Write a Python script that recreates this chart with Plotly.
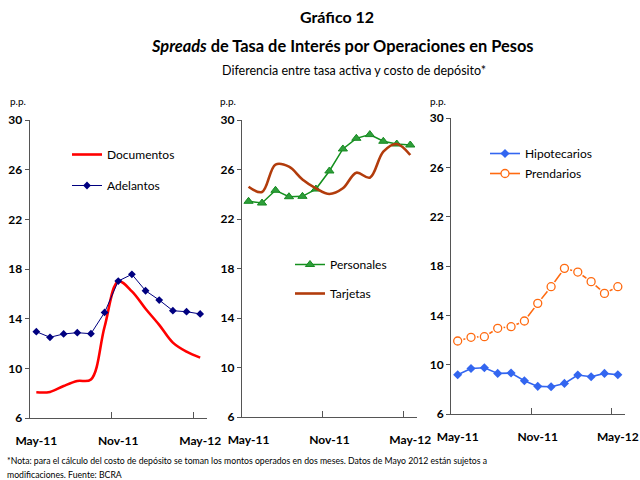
import plotly.graph_objects as go

months = ["May-11", "Jun-11", "Jul-11", "Ago-11", "Sep-11", "Oct-11", "Nov-11",
          "Dic-11", "Ene-12", "Feb-12", "Mar-12", "Abr-12", "May-12"]
tick_labels = ["May-11", "Nov-11", "May-12"]
y_ticks = [6, 10, 14, 18, 22, 26, 30]

documentos = [8.07, 8.1, 8.58, 8.98, 9.1, 13.35, 17.0, 16.2, 14.8, 13.5, 12.07, 11.34, 10.86]
adelantos = [12.95, 12.5, 12.77, 12.87, 12.79, 14.5, 17.03, 17.57, 16.25, 15.5, 14.64, 14.56, 14.38]
personales = [23.43, 23.29, 24.32, 23.8, 23.83, 24.42, 25.88, 27.66, 28.52, 28.82, 28.28, 28.06, 27.98]
tarjetas = [24.61, 24.18, 26.4, 26.23, 25.2, 24.48, 24.02, 24.48, 25.74, 25.34, 27.44, 28.06, 27.17]
hipotecarios = [9.18, 9.69, 9.75, 9.29, 9.32, 8.7, 8.24, 8.21, 8.48, 9.16, 9.02, 9.29, 9.18]
prendarios = [11.92, 12.22, 12.27, 12.95, 13.08, 13.54, 14.97, 16.32, 17.81, 17.51, 16.73, 15.78, 16.32]

x = list(range(len(months)))
FONT = "Lato"
W, H = 640, 480


def px_x(a, b):
    return [a / W, b / W]


def px_y(top, bottom):
    return [1 - bottom / H, 1 - top / H]


fig = go.Figure()

# Panel 1
fig.add_trace(go.Scatter(x=x, y=documentos, name="Documentos", mode="lines",
                         line=dict(color="#FF0000", width=2.6, shape="spline", smoothing=1),
                         xaxis="x", yaxis="y", legend="legend", legendgroup="a"))
fig.add_trace(go.Scatter(x=x, y=adelantos, name="Adelantos", mode="lines+markers",
                         line=dict(color="#000080", width=1),
                         marker=dict(symbol="diamond", size=6, color="#000080"),
                         xaxis="x", yaxis="y", legend="legend", legendgroup="b"))
# Panel 2
fig.add_trace(go.Scatter(x=x, y=personales, name="Personales", mode="lines+markers",
                         line=dict(color="#14901E", width=1.5),
                         marker=dict(symbol="triangle-up", size=8, color="#2E9E3A",
                                     line=dict(color="#178A22", width=1)),
                         xaxis="x2", yaxis="y2", legend="legend2", legendgroup="c"))
fig.add_trace(go.Scatter(x=x, y=tarjetas, name="Tarjetas", mode="lines",
                         line=dict(color="#B23C0C", width=2.6, shape="spline", smoothing=1),
                         xaxis="x2", yaxis="y2", legend="legend2", legendgroup="d"))
# Panel 3
fig.add_trace(go.Scatter(x=x, y=hipotecarios, name="Hipotecarios", mode="lines+markers",
                         line=dict(color="#3366F0", width=1.6),
                         marker=dict(symbol="diamond", size=7, color="#3366F0"),
                         xaxis="x3", yaxis="y3", legend="legend3", legendgroup="e"))
fig.add_trace(go.Scatter(x=x, y=prendarios, name="Prendarios", mode="lines+markers",
                         line=dict(color="#FF6A10", width=1.6),
                         marker=dict(symbol="circle", size=8, color="white",
                                     line=dict(color="#FF6A10", width=1.3)),
                         xaxis="x3", yaxis="y3", legend="legend4", legendgroup="f"))
fig.add_trace(go.Scatter(x=x, y=prendarios, mode="markers", showlegend=False, hoverinfo="skip",
                         marker=dict(symbol="circle", size=12, color="white"),
                         xaxis="x3", yaxis="y3"))
fig.add_trace(go.Scatter(x=x, y=prendarios, mode="markers", showlegend=False, hoverinfo="skip",
                         marker=dict(symbol="circle", size=8, color="white",
                                     line=dict(color="#FF6A10", width=1.3)),
                         xaxis="x3", yaxis="y3"))

axis_color = "#555555"
tickfont = dict(family=FONT, size=12, color="black", weight="bold")


def xaxis(dom, anchor):
    return dict(domain=dom, anchor=anchor, range=[-0.5, 12.5],
                tickmode="array", tickvals=[0, 6, 12], ticktext=tick_labels,
                ticks="", showline=True, linecolor=axis_color, linewidth=1,
                showgrid=False, zeroline=False, tickfont=tickfont,
                ticklabelstandoff=12,
                minor=dict(tickmode="array", tickvals=[5.5, 11.5], ticks="inside",
                           ticklen=6, tickcolor=axis_color, tickwidth=1, showgrid=False),
                automargin=False)


def yaxis(dom, anchor):
    return dict(domain=dom, anchor=anchor, range=[6, 30],
                tickmode="array", tickvals=y_ticks, ticks="outside", ticklen=4,
                tickcolor=axis_color, showline=True, linecolor=axis_color, linewidth=1,
                showgrid=False, zeroline=False, tickfont=tickfont, automargin=False)


legend_font = dict(family=FONT, size=12, color="black")


def legend(px, top, gap=0):
    return dict(x=px / W, y=1 - top / H, xanchor="left", yanchor="top",
                font=legend_font, bgcolor="rgba(0,0,0,0)", traceorder="grouped",
                tracegroupgap=gap, itemwidth=30)


fig.update_layout(
    width=W, height=H,
    margin=dict(l=0, r=0, t=0, b=0),
    paper_bgcolor="white", plot_bgcolor="white",
    xaxis=xaxis(px_x(29.5, 207), "y"),
    yaxis=yaxis(px_y(120, 418), "x"),
    xaxis2=xaxis(px_x(241.8, 417), "y2"),
    yaxis2=yaxis(px_y(120, 417), "x2"),
    xaxis3=xaxis(px_x(451, 624.5), "y3"),
    yaxis3=yaxis(px_y(118, 414), "x3"),
    legend=legend(67, 140, 12),
    legend2=legend(290, 250, 10),
    legend3=legend(485, 139),
    legend4=legend(485, 159),
    showlegend=True,
)

annotations = [
    dict(text="<b>Gráfico 12</b>", x=337 / W, y=1 - 17 / H, font=dict(family=FONT, size=16, color="black")),
    dict(text="<b><i>Spreads</i> de Tasa de Interés por Operaciones en Pesos</b>", x=342 / W, y=1 - 45 / H,
         font=dict(family=FONT, size=16.4, color="black")),
    dict(text="Diferencia entre tasa activa y costo de depósito*", x=354 / W, y=1 - 70 / H,
         font=dict(family=FONT, size=12.5, color="black")),
    dict(text="p.p.", x=18 / W, y=1 - 101 / H, font=dict(family=FONT, size=10, color="black")),
    dict(text="p.p.", x=228 / W, y=1 - 101 / H, font=dict(family=FONT, size=10, color="black")),
    dict(text="p.p.", x=438 / W, y=1 - 101 / H, font=dict(family=FONT, size=10, color="black")),
    dict(text="*Nota: para el cálculo del costo de depósito se toman los montos operados en dos meses. "
              "Datos de Mayo 2012 están sujetos a", x=5 / W, y=1 - 460 / H, xanchor="left",
         font=dict(family=FONT, size=8.7, color="black")),
    dict(text="modificaciones. Fuente: BCRA", x=5 / W, y=1 - 474 / H, xanchor="left",
         font=dict(family=FONT, size=8.7, color="black")),
]
for a in annotations:
    a.setdefault("xanchor", "center")
    a.update(xref="paper", yref="paper", yanchor="middle", showarrow=False)
fig.update_layout(annotations=annotations)

fig.write_html("out.html", config={"displayModeBar": False},
               post_script="document.body.style.margin='0';")
